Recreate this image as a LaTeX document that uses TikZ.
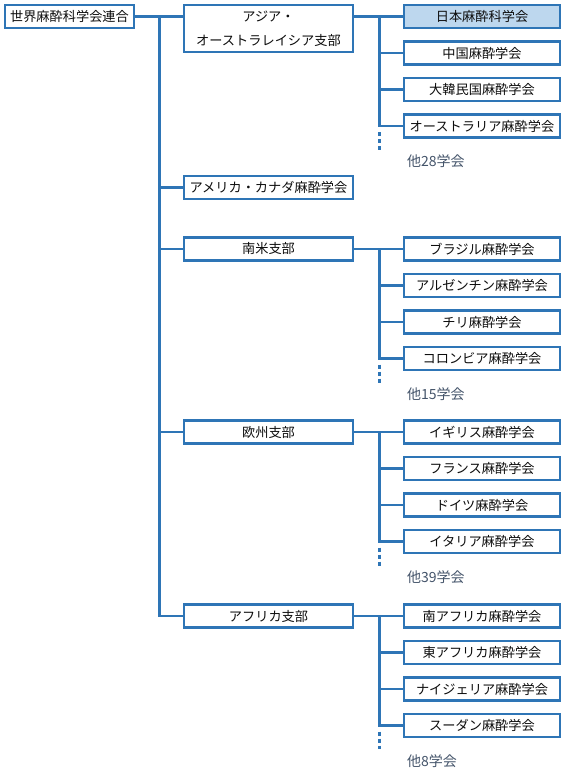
\documentclass[tikz,border=0pt]{standalone}
\usepackage{fontspec}
\setmainfont{Noto Sans CJK JP}
\definecolor{OrgBlue}{RGB}{46,117,182}
\definecolor{OrgFill}{RGB}{189,215,238}
\definecolor{OrgGray}{RGB}{68,84,106}
\usetikzlibrary{positioning,calc}

\begin{document}
\begin{tikzpicture}[x=1pt, y=-1pt,
        rootbox/.style={rectangle, draw=OrgBlue, line width=2.6pt, fill=white,
                    minimum width=129pt, minimum height=23pt, inner sep=0pt,
                    font=\fontsize{13.2}{24}\selectfont, text=black!95},
        regbox/.style={rootbox, minimum width=169pt},
        socbox/.style={rootbox, minimum width=156pt},
        link/.style={OrgBlue, line width=2.5pt},
        more/.style={OrgBlue, line width=2.5pt, dash pattern=on 4pt off 3pt},
        rest/.style={anchor=west, inner sep=0pt, font=\fontsize{14}{16}\selectfont, text=OrgGray}
      ]
        \useasboundingbox (0,0) rectangle (576,771);
        % root and regional sections
        \node[rootbox] (wfsa) at (69.5,16.5) {世界麻酔科学会連合};
        \node[regbox, minimum height=47pt, align=center] (asia) at (268.5,28.5) {アジア・\\オーストラレイシア支部};
        \node[regbox] (amer) at (268.5,187.5) {アメリカ・カナダ麻酔学会};
        \node[regbox] (samr) at (268.5,249) {南米支部};
        \node[regbox] (euro) at (268.5,432) {欧州支部};
        \node[regbox] (afr)  at (268.5,616) {アフリカ支部};
        % member societies
        \node[socbox, fill=OrgFill] (jpn) at (482,16.5) {日本麻酔科学会};
        \node[socbox] (chn) at (482,53)    {中国麻酔学会};
        \node[socbox] (kor) at (482,89.5)  {大韓民国麻酔学会};
        \node[socbox] (aus) at (482,126)   {オーストラリア麻酔学会};
        \node[socbox] (bra) at (482,249)   {ブラジル麻酔学会};
        \node[socbox] (arg) at (482,285.5) {アルゼンチン麻酔学会};
        \node[socbox] (chl) at (482,322)   {チリ麻酔学会};
        \node[socbox] (col) at (482,358.5) {コロンビア麻酔学会};
        \node[socbox] (gbr) at (482,432)   {イギリス麻酔学会};
        \node[socbox] (fra) at (482,468.5) {フランス麻酔学会};
        \node[socbox] (deu) at (482,505)   {ドイツ麻酔学会};
        \node[socbox] (ita) at (482,541.5) {イタリア麻酔学会};
        \node[socbox] (zaf) at (482,616)   {南アフリカ麻酔学会};
        \node[socbox] (eaf) at (482,652.5) {東アフリカ麻酔学会};
        \node[socbox] (nga) at (482,689)   {ナイジェリア麻酔学会};
        \node[socbox] (sdn) at (482,725.5) {スーダン麻酔学会};
        % other societies
        \node[rest] (asia-more) at (407,161) {他28学会};
        \node[rest] (samr-more) at (407,394) {他15学会};
        \node[rest] (euro-more) at (407,577.5) {他39学会};
        \node[rest] (afr-more)  at (407,761) {他8学会};
        % main trunk
        \coordinate (trunk) at (159.5,16.5);
        \draw[link] (wfsa.east) -- (wfsa.east -| asia.west);
        \draw[link] (trunk) |- (afr.west);
        \draw[link] (trunk |- amer.west) -- (amer.west);
        \draw[link] (trunk |- samr.west) -- (samr.west);
        \draw[link] (trunk |- euro.west) -- (euro.west);
        % Asia / Australasia
        \coordinate (asia-bus) at (379.5,16.5);
        \draw[link] (jpn.west -| asia.east) -- (jpn.west);
        \draw[link] (asia-bus) |- (aus.west);
        \draw[link] (asia-bus |- chn.west) -- (chn.west);
        \draw[link] (asia-bus |- kor.west) -- (kor.west);
        \coordinate (asia-end) at (379.5,152);
        \draw[more] ($(asia-bus |- aus.west)+(0,6)$) -- (asia-end);
        % South America
        \coordinate (samr-bus) at (379.5,249);
        \draw[link] (samr.east) -- (bra.west);
        \draw[link] (samr-bus) |- (col.west);
        \draw[link] (samr-bus |- arg.west) -- (arg.west);
        \draw[link] (samr-bus |- chl.west) -- (chl.west);
        \coordinate (samr-end) at (379.5,384);
        \draw[more] ($(samr-bus |- col.west)+(0,6)$) -- (samr-end);
        % Europe
        \coordinate (euro-bus) at (379.5,432);
        \draw[link] (euro.east) -- (gbr.west);
        \draw[link] (euro-bus) |- (ita.west);
        \draw[link] (euro-bus |- fra.west) -- (fra.west);
        \draw[link] (euro-bus |- deu.west) -- (deu.west);
        \coordinate (euro-end) at (379.5,567);
        \draw[more] ($(euro-bus |- ita.west)+(0,6)$) -- (euro-end);
        % Africa
        \coordinate (afr-bus) at (379.5,616);
        \draw[link] (afr.east) -- (zaf.west);
        \draw[link] (afr-bus) |- (sdn.west);
        \draw[link] (afr-bus |- eaf.west) -- (eaf.west);
        \draw[link] (afr-bus |- nga.west) -- (nga.west);
        \coordinate (afr-end) at (379.5,749);
        \draw[more] ($(afr-bus |- sdn.west)+(0,6)$) -- (afr-end);
\end{tikzpicture}
\end{document}
